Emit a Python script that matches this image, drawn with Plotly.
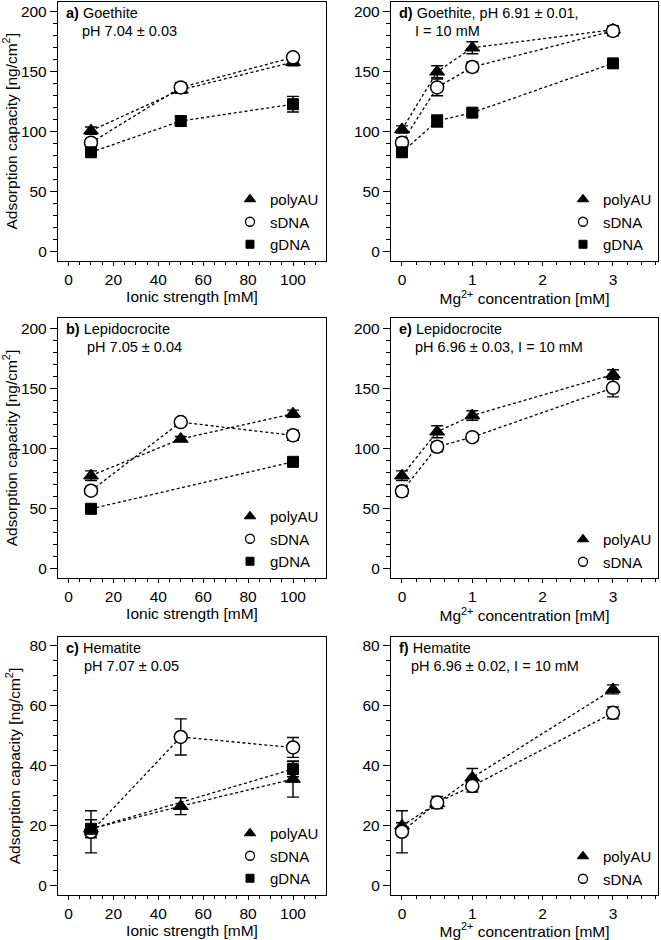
import plotly.graph_objects as go

# ---------------- data ----------------
ionic_x = [10, 50, 100]
ionic_x_g2 = [10, 100]
mg_x = [0, 0.5, 1, 3]

# a) Goethite vs ionic strength
a_poly = [101, 135, 158];   a_poly_err = [3, 3, 3]
a_sdna = [91, 137, 162];    a_sdna_err = [3, 4, 3]
a_gdna = [83, 109, 123];    a_gdna_err = [3, 4, 6.5]

# d) Goethite vs Mg2+
d_poly = [102, 150, 170, 185];  d_poly_err = [3, 5, 5, 3]
d_sdna = [91, 137, 154, 184];   d_sdna_err = [4, 7, 4, 4]
d_gdna = [83, 109, 116, 157];   d_gdna_err = [3, 5, 3, 3]

# b) Lepidocrocite vs ionic strength
b_poly = [77.5, 108, 129];  b_poly_err = [4, 2, 3]
b_sdna = [65, 122, 111];    b_sdna_err = [3, 2, 4]
b_gdna = [50, 89];          b_gdna_err = [2, 3]

# e) Lepidocrocite vs Mg2+
e_poly = [77.5, 114, 127.5, 161.5]; e_poly_err = [4, 5, 4, 4]
e_sdna = [64.5, 101.5, 109.5, 150.5]; e_sdna_err = [4, 4, 3, 7.5]

# c) Hematite vs ionic strength
c_poly = [19, 26.5, 35.5];  c_poly_err = [3, 2.8, 6]
c_sdna = [18, 49.5, 46];    c_sdna_err = [7, 6, 3.3]
c_gdna = [19, 38.8];        c_gdna_err = [1, 2.5]

# f) Hematite vs Mg2+
f_poly = [20, 27.5, 36, 65.3];  f_poly_err = [1, 1.5, 3, 1.5]
f_sdna = [18, 27.7, 33.2, 57.5]; f_sdna_err = [7, 2, 2, 2]

series_names = ["polyAU", "sDNA", "gDNA"]
panel_titles = ["<b>a)</b> Goethite", "<b>d)</b> Goethite, pH 6.91 ± 0.01,",
                "<b>b)</b> Lepidocrocite", "<b>e)</b> Lepidocrocite",
                "<b>c)</b> Hematite", "<b>f)</b> Hematite"]
panel_sub = ["pH 7.04 ± 0.03", "I = 10 mM",
             "pH 7.05 ± 0.04", "pH 6.96 ± 0.03, I = 10 mM",
             "pH 7.07 ± 0.05", "pH 6.96 ± 0.02, I = 10 mM"]
ytitle = "Adsorption capacity [ng/cm<sup>2</sup>]"
xtitle_left = "Ionic strength [mM]"
xtitle_right = "Mg<sup>2+</sup> concentration [mM]"

# ---------------- layout helpers ----------------
W, H = 661, 940
FONT = "Liberation Sans, Arial, Helvetica, sans-serif"
def px(x): return x / W
def py(y): return 1 - y / H

col_px = [(58, 326), (391, 658)]
row_px = [(1.5, 261), (318, 578), (637, 895)]

styles = {
    "polyAU": dict(symbol="triangle-up", size=13, color="black", line=dict(color="black", width=1)),
    "sDNA": dict(symbol="circle", size=13, color="white", line=dict(color="black", width=1.5)),
    "gDNA": dict(symbol="square", size=11, color="black", line=dict(color="black", width=1)),
}
legend_styles = {
    "polyAU": dict(symbol="triangle-up", size=10, color="black", line=dict(color="black", width=1)),
    "sDNA": dict(symbol="circle", size=9, color="white", line=dict(color="black", width=1.3)),
    "gDNA": dict(symbol="square", size=8, color="black", line=dict(color="black", width=1)),
}

panels = [
    (0, 0, [(ionic_x, a_poly, a_poly_err, "polyAU"), (ionic_x, a_sdna, a_sdna_err, "sDNA"), (ionic_x, a_gdna, a_gdna_err, "gDNA")]),
    (0, 1, [(mg_x, d_poly, d_poly_err, "polyAU"), (mg_x, d_sdna, d_sdna_err, "sDNA"), (mg_x, d_gdna, d_gdna_err, "gDNA")]),
    (1, 0, [(ionic_x, b_poly, b_poly_err, "polyAU"), (ionic_x, b_sdna, b_sdna_err, "sDNA"), (ionic_x_g2, b_gdna, b_gdna_err, "gDNA")]),
    (1, 1, [(mg_x, e_poly, e_poly_err, "polyAU"), (mg_x, e_sdna, e_sdna_err, "sDNA")]),
    (2, 0, [(ionic_x, c_poly, c_poly_err, "polyAU"), (ionic_x, c_sdna, c_sdna_err, "sDNA"), (ionic_x_g2, c_gdna, c_gdna_err, "gDNA")]),
    (2, 1, [(mg_x, f_poly, f_poly_err, "polyAU"), (mg_x, f_sdna, f_sdna_err, "sDNA")]),
]

fig = go.Figure()
layout = dict(
    width=W, height=H, margin=dict(l=0, r=0, t=0, b=0),
    paper_bgcolor="white", plot_bgcolor="white",
    font=dict(family=FONT, size=15, color="black"),
    showlegend=True, annotations=[],
)

for i, (r, c, series) in enumerate(panels):
    n = i + 1
    xa = "x" if n == 1 else f"x{n}"
    ya = "y" if n == 1 else f"y{n}"
    lg = "legend" if n == 1 else f"legend{n}"
    for xs, ys, es, name in series:
        fig.add_trace(go.Scatter(
            x=xs, y=ys, xaxis=xa, yaxis=ya, mode="lines+markers",
            line=dict(color="black", width=1.3, dash="3px,2.5px"),
            marker=styles[name],
            error_y=dict(type="data", array=es, color="black", thickness=1.4, width=6),
            showlegend=False, cliponaxis=False,
        ))
    for xs, ys, es, name in series:
        fig.add_trace(go.Scatter(
            x=[None], y=[None], xaxis=xa, yaxis=ya, mode="markers",
            marker=legend_styles[name], name=name, legend=lg, showlegend=True,
        ))
    x0, x1 = col_px[c]
    y0, y1 = row_px[r]
    small = (r == 2)
    axkey_x = "xaxis" if n == 1 else f"xaxis{n}"
    axkey_y = "yaxis" if n == 1 else f"yaxis{n}"
    common = dict(showline=True, mirror=True, linecolor="black", linewidth=1.3,
                  ticks="outside", tickwidth=1.2, tickcolor="black",
                  showgrid=False, zeroline=False, tickfont=dict(size=15.5),
                  title_font=dict(size=15.5), automargin=False)
    if c == 0:
        layout[axkey_x] = dict(common, domain=[px(x0), px(x1)], anchor=ya, ticklen=4,
                               range=[-4.7, 114.7], dtick=20, tick0=0,
                               minor=dict(ticks="outside", ticklen=3, dtick=5, tickcolor="black", tickwidth=1),
                               title=dict(text=xtitle_left, standoff=0))
    else:
        layout[axkey_x] = dict(common, domain=[px(x0), px(x1)], anchor=ya, ticklen=4,
                               range=[-0.156, 3.64], dtick=1, tick0=0,
                               minor=dict(ticks="outside", ticklen=3, dtick=0.2, tickcolor="black", tickwidth=1),
                               title=dict(text=xtitle_right, standoff=0))
    if small:
        yr, yd, ym = [-3, 82.7], 20, 5
    else:
        yr, yd, ym = [-7.5, 208.5], 50, 10
    ydict = dict(common, domain=[py(y1), py(y0)], anchor=xa, range=yr, dtick=yd, tick0=0, ticklen=7,
                 minor=dict(ticks="outside", ticklen=4, dtick=ym, tickcolor="black", tickwidth=1))
    if c == 0:
        ydict["title"] = dict(text=ytitle, standoff=5)
    layout[axkey_y] = ydict

    # legend
    lx = 230 if c == 0 else 563
    layout[lg] = dict(x=px(lx), xanchor="left", y=py(y1), yanchor="bottom",
                      bgcolor="rgba(0,0,0,0)", font=dict(size=15, family=FONT),
                      tracegroupgap=0, itemwidth=30)

    # panel labels
    tx = x0 + 6
    layout["annotations"].append(dict(
        text=panel_titles[i], x=px(tx), y=py(y0 + 11), xref="paper", yref="paper",
        xanchor="left", yanchor="middle", showarrow=False, font=dict(size=14.5)))
    sub_x = {0: 80, 1: 413, 2: 85, 3: 413, 4: 82, 5: 409}[i]
    layout["annotations"].append(dict(
        text=panel_sub[i], x=px(sub_x), y=py(y0 + 29), xref="paper", yref="paper",
        xanchor="left", yanchor="middle", showarrow=False, font=dict(size=14.5)))

fig.update_layout(**layout)
fig.write_html("out.html", config={"displayModeBar": False},
               post_script="document.body.style.margin='0';document.body.style.overflow='hidden';")
